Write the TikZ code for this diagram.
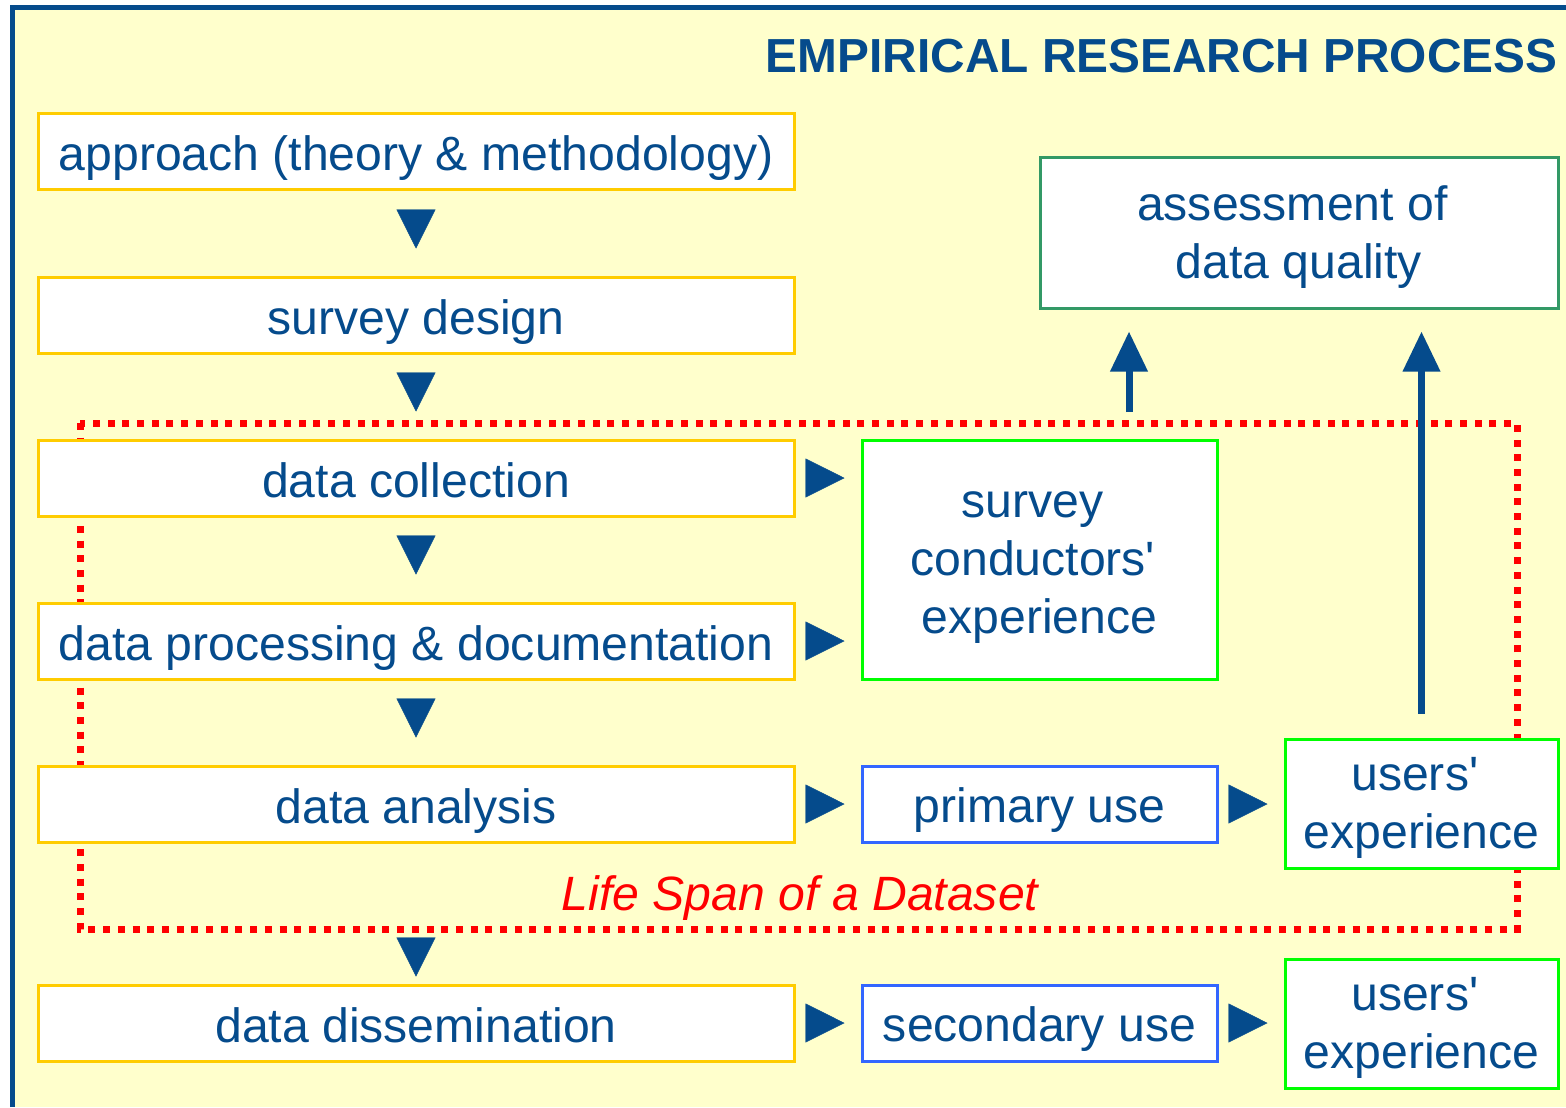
\documentclass[tikz,border=0pt]{standalone}
\usepackage{fontspec}
\setmainfont{Liberation Sans}
\usepackage{xcolor}
\usepackage{tikz}
\usetikzlibrary{positioning, arrows.meta, calc}

\definecolor{deepblue}{RGB}{5,75,140}
\definecolor{paper}{RGB}{255,255,204}
\definecolor{stageyellow}{RGB}{255,204,0}
\definecolor{expgreen}{RGB}{0,255,0}
\definecolor{useblue}{RGB}{51,102,255}
\definecolor{qualgreen}{RGB}{51,153,102}

\newcommand{\tsp}{\kern.278em}

\tikzset{
  box/.style={draw, fill=white, line width=0.3mm, text=deepblue, inner sep=0pt,
    align=center, font=\fontsize{13.7}{16.4}\selectfont, text depth=0mm},
  stage/.style={box, draw=stageyellow, minimum width=75.6mm, minimum height=7.6mm, text height=3.8mm},
  usebox/.style={box, draw=useblue, minimum width=35.5mm, minimum height=7.6mm, text height=3.7mm},
  expbox/.style={box, draw=expgreen},
  tri/.style={color=deepblue, line width=0.1pt, -{Triangle[length=3.9mm,width=3.9mm]}},
  uparrow/.style={draw=deepblue, line width=0.7mm, -{Triangle[length=4mm,width=3.6mm]}}
}

\begin{document}
\begin{tikzpicture}[x=0.1mm,y=-0.1mm]
        \useasboundingbox (0,0) rectangle (1566,1107);
        % frame
        \fill[paper] (12,7) rectangle (1566,1107);
        \draw[deepblue, line width=0.5mm] (12,1107) -- (12,7) -- (1566,7);
        \node[anchor=base east, inner sep=0pt, text=deepblue, font=\fontsize{13.6}{16}\selectfont\bfseries]
            (title) at (1558,72) {EMPIRICAL RESEARCH PROCESS};

        % life span of a dataset
        \draw[red, line width=0.7mm, dash pattern=on 0.7mm off 0.77mm]
            (80,423) rectangle (1517,929);
        \coordinate (lsTop) at (1129,423);
        \node[anchor=base, inner sep=0pt, text=red, font=\fontsize{13.7}{16}\selectfont\itshape]
            (span) at (800,910) {Life Span of a Dataset};

        % process steps
        \node[stage](appr) at (416,151){approach (theory \& methodology)};
        \node[stage](design) at (416,315){survey design};
        \node[stage](coll) at (416,478){data collection};
        \node[stage](proc) at (416,641){data processing \& documentation};
        \node[stage](anal) at (416,804){data analysis};
        \node[stage](diss) at (416,1023){data dissemination};

        % uses and experience
        \node[expbox, minimum width=35.5mm, minimum height=23.9mm, text height=14.7mm](cond) at (1039.5,559.5)
            {survey\tsp\\conductors\textquotesingle\tsp\\experience};
        \node[usebox](prim) at (1039.5,804){primary use};
        \node[usebox](sec) at (1039.5,1023){secondary use};
        \node[expbox, minimum width=27.3mm, minimum height=12.9mm, text height=8.9mm](uexp1) at (1421.5,803.5)
            {users\textquotesingle\tsp\\experience};
        \node[expbox, minimum width=27.3mm, minimum height=12.9mm, text height=8.9mm](uexp2) at (1421.5,1023.5)
            {users\textquotesingle\tsp\\experience};
        \node[box, draw=qualgreen, minimum width=51.8mm, minimum height=15.1mm, text height=9.1mm](qual) at (1299,232.5)
            {assessment of\tsp\\data quality};

        % triangles between the steps
        \path[tri, shorten <=2.3mm, shorten >=2.7mm]
            (appr) edge (design)
            (design) edge (coll)
            (coll) edge (proc)
            (proc) edge (anal)
            (anal) edge[shorten <=9.7mm, shorten >=0.7mm] (diss);
        \path[tri, shorten <=1.4mm, shorten >=1.6mm]
            (coll.east) edge (coll.east -| cond.west)
            (proc.east) edge (proc.east -| cond.west)
            (anal.east) edge (prim)
            (diss.east) edge (sec)
            (prim.east) edge (prim.east -| uexp1.west)
            (sec.east) edge (sec.east -| uexp2.west);

        % feedback to data quality
        \draw[uparrow, shorten <=1.1mm, shorten >=2.2mm] (lsTop) -- (lsTop |- qual.south);
        \draw[uparrow, shorten <=2.4mm, shorten >=2.2mm] (uexp1.north) -- (uexp1.north |- qual.south);
\end{tikzpicture}
\end{document}
